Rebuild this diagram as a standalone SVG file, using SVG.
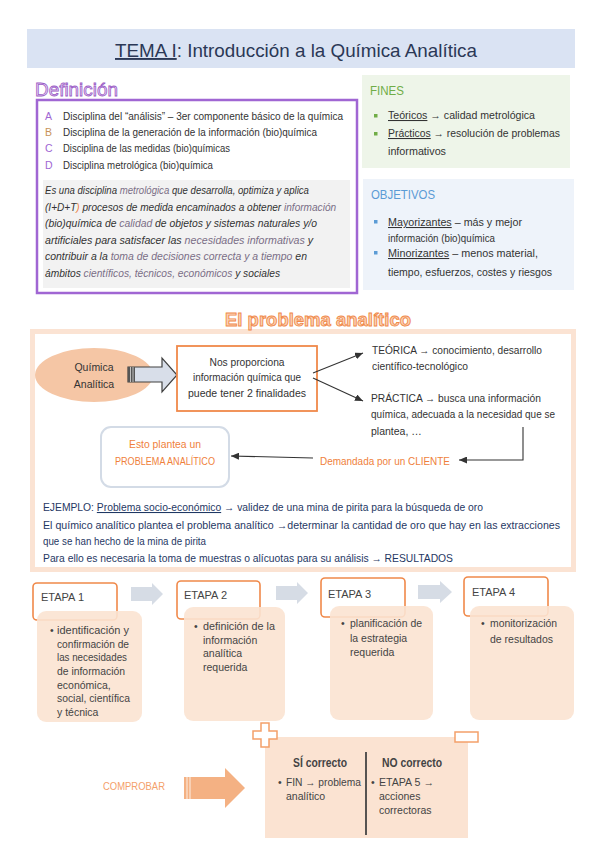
<svg xmlns="http://www.w3.org/2000/svg" width="599" height="848" viewBox="0 0 599 848">
<defs>
<style>
text{font-family:"Liberation Sans",Arial,sans-serif;}
.t{font-size:10.5px;fill:#333;}
.ti{font-size:10.5px;fill:#333;font-style:italic;}
.lt{fill:#7a6e86;}
.u{text-decoration:underline;}
.or{fill:#ef7f3c;}
.et{font-size:11px;fill:#444;}
.eb{font-size:10.5px;fill:#444;}
.ej{font-size:10.5px;fill:#1f3864;}
.peach{fill:#fbe3d2;fill-opacity:0.9;}
.obox{fill:none;stroke:#f0894a;stroke-width:1.6;}
.garrow{fill:#d6dce5;}
.conn{stroke:#333;stroke-width:1.1;fill:none;}
</style>
<marker id="ah" viewBox="0 0 8 7" refX="8" refY="3.5" markerWidth="8" markerHeight="7" markerUnits="userSpaceOnUse" orient="auto">
<path d="M0,0 L8,3.5 L0,7 Z" fill="#333"/>
</marker>
</defs>
<rect width="599" height="848" fill="#fff"/>

<g id="title">
<rect x="27" y="29" width="548" height="39" fill="#dae3f3"/>
<text x="115" y="57" font-size="19" fill="#2b3856" textLength="362" lengthAdjust="spacingAndGlyphs"><tspan class="u">TEMA I</tspan>: Introducción a la Química Analítica</text>
</g>

<g id="definicion">
<text x="35" y="96" font-size="19" fill="#ead8f6" stroke="#9b5cc6" stroke-width="0.8" textLength="83" lengthAdjust="spacingAndGlyphs">Definición</text>
<rect x="37" y="100" width="320" height="193" fill="#fff" stroke="#a066d3" stroke-width="2.5"/>
<text x="45" y="120" class="t" style="fill:#a066d3">A</text>
<text x="45" y="136" class="t" style="fill:#c8925a">B</text>
<text x="45" y="152" class="t" style="fill:#a066d3">C</text>
<text x="45" y="169" class="t" style="fill:#a066d3">D</text>
<text x="63" y="120" class="t" textLength="280" lengthAdjust="spacingAndGlyphs">Disciplina del “análisis” – 3er componente básico de la química</text>
<text x="63" y="136" class="t" textLength="254" lengthAdjust="spacingAndGlyphs">Disciplina de la generación de la información (bio)química</text>
<text x="63" y="152" class="t" textLength="167" lengthAdjust="spacingAndGlyphs">Disciplina de las medidas (bio)químicas</text>
<text x="63" y="169" class="t" textLength="150" lengthAdjust="spacingAndGlyphs">Disciplina metrológica (bio)química</text>
<rect x="43" y="180" width="307" height="108" fill="#f2f2f2"/>
<text class="ti" transform="translate(45,194) scale(0.915,1)">Es una disciplina <tspan class="lt">metrológica</tspan> que desarrolla, optimiza y aplica</text>
<text class="ti" transform="translate(45,211) scale(0.96,1)">(I+D+T<tspan class="or">)</tspan> procesos de medida encaminados a obtener <tspan class="lt">información</tspan></text>
<text x="45" y="227" class="ti" textLength="272" lengthAdjust="spacingAndGlyphs">(bio)química de <tspan class="lt">calidad</tspan> de objetos y sistemas naturales y/o</text>
<text x="45" y="244" class="ti" textLength="268" lengthAdjust="spacingAndGlyphs">artificiales para satisfacer las <tspan class="lt">necesidades informativas</tspan> y</text>
<text x="45" y="260" class="ti" textLength="262" lengthAdjust="spacingAndGlyphs">contribuir a la <tspan class="lt">toma de decisiones correcta y a tiempo</tspan> en</text>
<text x="45" y="277" class="ti" textLength="235" lengthAdjust="spacingAndGlyphs">ámbitos <tspan class="lt">científicos, técnicos, económicos</tspan> y sociales</text>
</g>

<g id="fines">
<rect x="362" y="75" width="208" height="93" fill="#eef5e9"/>
<text x="370" y="95" font-size="13" fill="#70ad47" textLength="34" lengthAdjust="spacingAndGlyphs">FINES</text>
<rect x="374" y="114" width="3.5" height="3.5" fill="#70ad47"/>
<rect x="374" y="132" width="3.5" height="3.5" fill="#70ad47"/>
<text x="388" y="119" class="t" textLength="147" lengthAdjust="spacingAndGlyphs"><tspan class="u">Teóricos</tspan> → calidad metrológica</text>
<text x="388" y="137" class="t" textLength="172" lengthAdjust="spacingAndGlyphs"><tspan class="u">Prácticos</tspan> → resolución de problemas</text>
<text x="388" y="155" class="t" textLength="58" lengthAdjust="spacingAndGlyphs">informativos</text>
</g>

<g id="objetivos">
<rect x="363" y="179" width="211" height="111" fill="#eef3fa"/>
<text x="371" y="199" font-size="13" fill="#5b9bd5" textLength="64" lengthAdjust="spacingAndGlyphs">OBJETIVOS</text>
<rect x="374" y="220" width="3.5" height="3.5" fill="#5b9bd5"/>
<rect x="374" y="251" width="3.5" height="3.5" fill="#5b9bd5"/>
<text x="388" y="226" class="t" textLength="134" lengthAdjust="spacingAndGlyphs"><tspan class="u">Mayorizantes</tspan> – más y mejor</text>
<text x="388" y="242" class="t" textLength="107" lengthAdjust="spacingAndGlyphs">información (bio)química</text>
<text x="388" y="257" class="t" textLength="150" lengthAdjust="spacingAndGlyphs"><tspan class="u">Minorizantes</tspan> – menos material,</text>
<text x="388" y="276" class="t" textLength="164" lengthAdjust="spacingAndGlyphs">tiempo, esfuerzos, costes y riesgos</text>
</g>

<g id="problema-section">
<rect x="32.5" y="331.5" width="541" height="238" fill="#fff" stroke="#fbe3d3" stroke-width="5"/>
<text x="318" y="326" text-anchor="middle" font-size="19" font-weight="bold" fill="#fbd2b4" stroke="#f0894a" stroke-width="0.9" textLength="186" lengthAdjust="spacingAndGlyphs">El problema analítico</text>
</g>

<g id="quimica-analitica">
<ellipse cx="94" cy="375" rx="59" ry="27" fill="#f5c6a5"/>
<text x="94" y="371" class="t" text-anchor="middle">Química</text>
<text x="94" y="388" class="t" text-anchor="middle">Analítica</text>
</g>

<g id="block-arrow">
<path d="M128,367 H162 V358 L177,375 L162,392 V382 H128 Z" fill="#d8dee9" stroke="#404040" stroke-width="1.2"/>
<rect x="128" y="367" width="7" height="15" fill="#555"/>
<line x1="130.5" y1="367" x2="130.5" y2="382" stroke="#ddd" stroke-width="0.8"/>
<line x1="133" y1="367" x2="133" y2="382" stroke="#ddd" stroke-width="0.8"/>
</g>

<g id="proporciona">
<rect x="177" y="346" width="140" height="65" fill="#fff" stroke="#f0894a" stroke-width="1.8"/>
<text x="247" y="366" class="t" text-anchor="middle" textLength="75" lengthAdjust="spacingAndGlyphs">Nos proporciona</text>
<text x="247" y="381" class="t" text-anchor="middle" textLength="108" lengthAdjust="spacingAndGlyphs">información química que</text>
<text x="247" y="397" class="t" text-anchor="middle" textLength="118" lengthAdjust="spacingAndGlyphs">puede tener 2 finalidades</text>
</g>

<g id="teorica">
<text x="372" y="354" class="t" textLength="170" lengthAdjust="spacingAndGlyphs">TEÓRICA → conocimiento, desarrollo</text>
<text x="372" y="370" class="t" textLength="96" lengthAdjust="spacingAndGlyphs">científico-tecnológico</text>
</g>

<g id="practica">
<text x="371" y="402" class="t" textLength="170" lengthAdjust="spacingAndGlyphs">PRÁCTICA → busca una información</text>
<text x="371" y="418" class="t" textLength="184" lengthAdjust="spacingAndGlyphs">química, adecuada a la necesidad que se</text>
<text x="371" y="435" class="t">plantea, …</text>
</g>

<g id="problema-analitico">
<rect x="101" y="427" width="128" height="60" rx="10" fill="#fff" stroke="#d3dbe6" stroke-width="2"/>
<text x="165" y="448" class="t or" text-anchor="middle" textLength="72" lengthAdjust="spacingAndGlyphs">Esto plantea un</text>
<text x="165" y="465" class="t or" text-anchor="middle" textLength="100" lengthAdjust="spacingAndGlyphs">PROBLEMA ANALÍTICO</text>
</g>

<g id="demandada">
<text x="320" y="465" class="t or" textLength="130" lengthAdjust="spacingAndGlyphs">Demandada por un CLIENTE</text>
</g>

<g id="connectors">
<line class="conn" x1="313" y1="373" x2="363" y2="353" marker-end="url(#ah)"/>
<line class="conn" x1="313" y1="378" x2="363" y2="401" marker-end="url(#ah)"/>
<polyline class="conn" points="523,427 523,460 459,460" marker-end="url(#ah)"/>
<line class="conn" x1="313" y1="458" x2="231" y2="456" marker-end="url(#ah)"/>
</g>

<g id="ejemplo">
<text x="43" y="511" class="ej" textLength="440" lengthAdjust="spacingAndGlyphs">EJEMPLO: <tspan class="u">Problema socio-económico</tspan> → validez de una mina de pirita para la búsqueda de oro</text>
<text x="43" y="529" class="ej" textLength="517" lengthAdjust="spacingAndGlyphs">El químico analítico plantea el problema analítico →determinar la cantidad de oro que hay en las extracciones</text>
<text x="43" y="545" class="ej" textLength="163" lengthAdjust="spacingAndGlyphs">que se han hecho de la mina de pirita</text>
<text x="43" y="562" class="ej" textLength="410" lengthAdjust="spacingAndGlyphs">Para ello es necesaria la toma de muestras o alícuotas para su análisis → RESULTADOS</text>
</g>

<g id="etapa1">
<rect class="obox" x="33" y="583" width="84" height="37" rx="4"/>
<text x="41" y="601" class="et">ETAPA 1</text>
<rect class="peach" x="37" y="611" width="105" height="111" rx="9"/>
<text x="50" y="634" class="eb">•</text>
<text x="57" y="634" class="eb" textLength="72" lengthAdjust="spacingAndGlyphs">identificación y</text>
<text x="57" y="648" class="eb" textLength="72" lengthAdjust="spacingAndGlyphs">confirmación de</text>
<text x="57" y="661" class="eb" textLength="70" lengthAdjust="spacingAndGlyphs">las necesidades</text>
<text x="57" y="675" class="eb" textLength="68" lengthAdjust="spacingAndGlyphs">de información</text>
<text x="57" y="689" class="eb">económica,</text>
<text x="57" y="702" class="eb" textLength="73" lengthAdjust="spacingAndGlyphs">social, científica</text>
<text x="57" y="716" class="eb">y técnica</text>
</g>

<g id="etapa2">
<rect class="obox" x="177" y="581" width="83" height="38" rx="4"/>
<text x="184" y="599" class="et">ETAPA 2</text>
<rect class="peach" x="184" y="607" width="101" height="114" rx="9"/>
<text x="194" y="630" class="eb">•</text>
<text x="203" y="630" class="eb" textLength="72" lengthAdjust="spacingAndGlyphs">definición de la</text>
<text x="203" y="644" class="eb">información</text>
<text x="203" y="657" class="eb">analítica</text>
<text x="203" y="671" class="eb">requerida</text>
</g>

<g id="etapa3">
<rect class="obox" x="321" y="578" width="84" height="39" rx="4"/>
<text x="328" y="598" class="et">ETAPA 3</text>
<rect class="peach" x="330" y="606" width="103" height="114" rx="9"/>
<text x="341" y="627" class="eb">•</text>
<text x="350" y="627" class="eb" textLength="72" lengthAdjust="spacingAndGlyphs">planificación de</text>
<text x="350" y="642" class="eb">la estrategia</text>
<text x="350" y="656" class="eb">requerida</text>
</g>

<g id="etapa4">
<rect class="obox" x="464" y="577" width="84" height="39" rx="4"/>
<text x="472" y="596" class="et">ETAPA 4</text>
<rect class="peach" x="470" y="606" width="104" height="114" rx="9"/>
<text x="481" y="627" class="eb">•</text>
<text x="490" y="627" class="eb" textLength="67" lengthAdjust="spacingAndGlyphs">monitorización</text>
<text x="490" y="643" class="eb">de resultados</text>
</g>

<g id="etapa-arrows">
<path class="garrow" d="M131,587 H152 V583 L163,594 L152,605 V601 H131 Z"/>
<path class="garrow" d="M276,586 H297 V582 L308,593 L297,604 V600 H276 Z"/>
<path class="garrow" d="M418,585 H440 V581 L452,592 L440,603 V599 H418 Z"/>
</g>

<g id="comprobar">
<text x="103" y="790" font-size="11" fill="#f4a06a" textLength="62" lengthAdjust="spacingAndGlyphs">COMPROBAR</text>
<path d="M184,777 H225 V768 L245,788 L225,808 V799 H184 Z" fill="#f4b183"/>
<line x1="187" y1="777" x2="187" y2="799" stroke="#fff" stroke-width="0.8"/>
<line x1="190" y1="777" x2="190" y2="799" stroke="#fff" stroke-width="0.8"/>
</g>

<g id="resultado">
<rect x="265" y="737" width="203" height="101" fill="#fbe3d2"/>
<path d="M261,723 H269 V731 H277 V739 H269 V747 H261 V739 H253 V731 H261 Z" fill="#fff" stroke="#f4a06a" stroke-width="1.5"/>
<rect x="455" y="732" width="23" height="10" fill="#fff" stroke="#f4a06a" stroke-width="1.5"/>
<line x1="366" y1="752" x2="366" y2="835" stroke="#444" stroke-width="1.8"/>
<text x="320" y="767" font-size="12" font-weight="bold" fill="#444" text-anchor="middle" textLength="54" lengthAdjust="spacingAndGlyphs">SÍ correcto</text>
<text x="412" y="767" font-size="12" font-weight="bold" fill="#444" text-anchor="middle" textLength="60" lengthAdjust="spacingAndGlyphs">NO correcto</text>
<text x="278" y="786" class="eb">•</text>
<text x="286" y="786" class="eb" textLength="75" lengthAdjust="spacingAndGlyphs">FIN → problema</text>
<text x="286" y="800" class="eb">analítico</text>
<text x="371" y="786" class="eb">•</text>
<text x="379" y="786" class="eb" textLength="55" lengthAdjust="spacingAndGlyphs">ETAPA 5 →</text>
<text x="379" y="800" class="eb">acciones</text>
<text x="379" y="814" class="eb">correctoras</text>
</g>
</svg>
